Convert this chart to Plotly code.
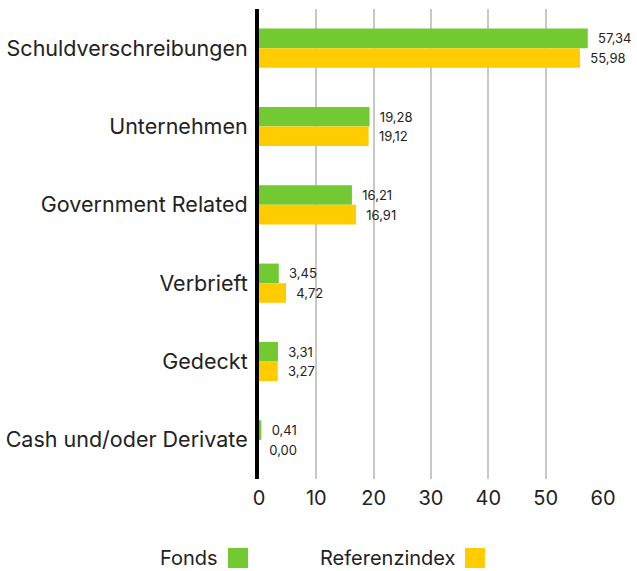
import plotly.graph_objects as go

categories = ["Schuldverschreibungen", "Unternehmen", "Government Related",
              "Verbrieft", "Gedeckt", "Cash und/oder Derivate"]
fonds = [57.34, 19.28, 16.21, 3.45, 3.31, 0.41]
referenz = [55.98, 19.12, 16.91, 4.72, 3.27, 0.00]
series_names = ["Fonds", "Referenzindex"]
colors = ["#72C932", "#FFCC00"]
x_ticks = [0, 10, 20, 30, 40, 50, 60]

FONT = "Inter"
W, H = 637, 571
L, R, T, B = 259, 34, 9, 92
PW, PH = W - L - R, H - T - B

def fmt(v):
    return "  " + f"{v:.2f}".replace(".", ",")

fig = go.Figure()
for name, vals, col in zip(series_names, [fonds, referenz], colors):
    fig.add_trace(go.Bar(
        y=categories, x=vals, name=name, orientation="h",
        marker=dict(color=col, line=dict(width=0)),
        text=[fmt(v) for v in vals], textposition="outside",
        textfont=dict(family=FONT, size=13, color="#222222"),
        cliponaxis=False,
    ))

fig.update_layout(
    width=W, height=H,
    margin=dict(l=L, r=R, t=T, b=B, autoexpand=False),
    plot_bgcolor="white", paper_bgcolor="white",
    barmode="group", bargap=0.5, bargroupgap=0,
    showlegend=False,
    font=dict(family=FONT, color="#222222"),
    xaxis=dict(range=[0, 60], tickvals=x_ticks, showgrid=True,
               gridcolor="#c8c8c8", gridwidth=2, zeroline=False,
               tickfont=dict(size=20, family=FONT), ticks="",
               ticklabelstandoff=5, showline=False),
    yaxis=dict(autorange="reversed", showline=True, linecolor="black",
               linewidth=4, tickfont=dict(size=21.5, family=FONT), ticks="",
               ticklabelstandoff=3, showgrid=False, zeroline=False),
)

def px_x(px):
    return (px - L) / PW

def px_y(py):
    return (H - B - py) / PH

# legend (text followed by coloured square)
leg_items = [(series_names[0], colors[0], 220, 228), (series_names[1], colors[1], 458, 465)]
for name, col, text_right, sq_left in leg_items:
    fig.add_annotation(x=px_x(text_right), y=px_y(558), xref="paper", yref="paper",
                       text=name, showarrow=False, xanchor="right", yanchor="middle",
                       font=dict(size=20, family=FONT, color="#222222"))
    fig.add_shape(type="rect", xref="paper", yref="paper",
                  x0=px_x(sq_left), x1=px_x(sq_left + 20),
                  y0=px_y(568), y1=px_y(548),
                  fillcolor=col, line=dict(width=0))

fig.write_html("out.html", config={"displayModeBar": False},
               post_script="document.body.style.margin='0';document.body.style.overflow='hidden';")
